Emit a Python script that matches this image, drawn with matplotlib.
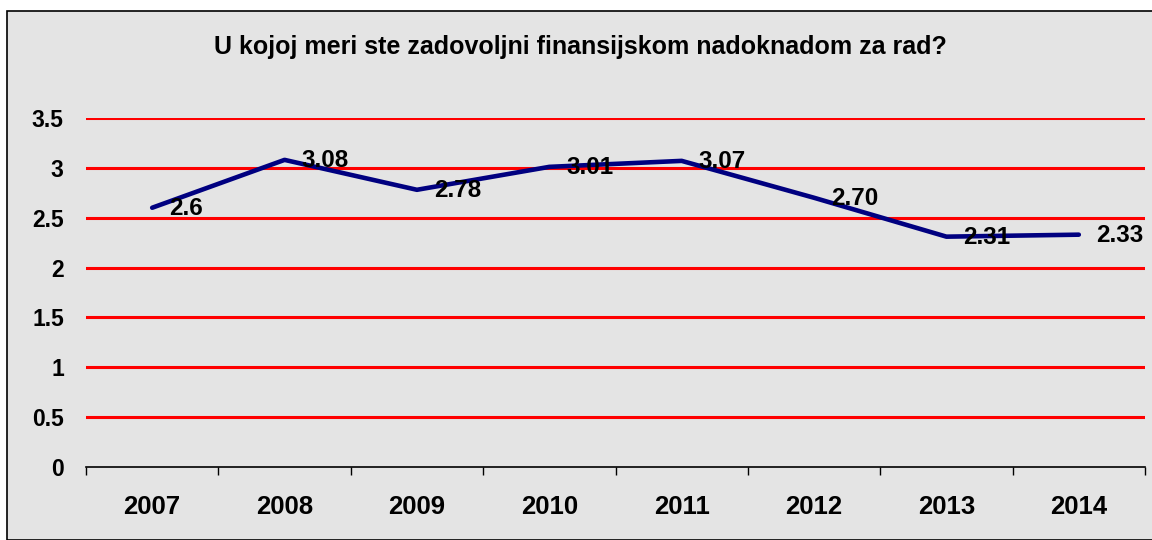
import numpy as np
import matplotlib.pyplot as plt
from matplotlib.patches import Rectangle

plt.rcParams['font.family'] = ['Liberation Sans', 'DejaVu Sans']

godine = ['2007', '2008', '2009', '2010', '2011', '2012', '2013', '2014']
ocene = [2.6, 3.08, 2.78, 3.01, 3.07, 2.70, 2.31, 2.33]
oznake = ['2.6', '3.08', '2.78', '3.01', '3.07', '2.70', '2.31', '2.33']
y_ticks = [0, 0.5, 1, 1.5, 2, 2.5, 3, 3.5]
y_tick_labels = ['0', '0.5', '1', '1.5', '2', '2.5', '3', '3.5']

fig = plt.figure(figsize=(11.52, 5.4), dpi=100)
fig.patch.set_facecolor('white')

# okvir grafikona (siva pozadina)
okvir = Rectangle((7 / 1152, 0), 1.0, 1 - 11 / 540, transform=fig.transFigure,
                  facecolor='#e4e4e4', edgecolor='black', linewidth=1.2, zorder=-5)
fig.add_artist(okvir)

ax = fig.add_axes([86 / 1152, 1 - 467 / 540, (1145 - 86) / 1152, (467 - 118) / 540])
ax.set_facecolor('none')

x = np.arange(len(godine))
ax.set_xlim(-0.5, len(godine) - 0.5)
ax.set_ylim(0, 3.5)

# crvene linije mreze
for yv in y_ticks[1:]:
    ax.axhline(yv, color='#ff0000', linewidth=2.2, zorder=1)

ax.plot(x, ocene, color='#000080', linewidth=3.3, solid_capstyle='round', zorder=3)

for xi, yi, txt in zip(x, ocene, oznake):
    ax.annotate(txt, (xi, yi), xytext=(17, -1), textcoords='offset pixels',
                ha='left', va='center', fontsize=17.5, fontweight='bold', zorder=4)

for s in ['top', 'right', 'left']:
    ax.spines[s].set_visible(False)
ax.spines['bottom'].set_linewidth(1.2)

ax.set_yticks(y_ticks)
ax.set_yticklabels(y_tick_labels, fontsize=16.5, fontweight='bold')
ax.tick_params(axis='y', length=0, pad=16)

# podeoci izmedju kategorija, nazivi u sredini
ax.set_xticks(np.arange(-0.5, len(godine)), minor=False)
ax.set_xticklabels([])
ax.set_xticks(x, minor=True)
ax.set_xticklabels(godine, minor=True, fontsize=18.5, fontweight='bold')
ax.tick_params(axis='x', which='major', length=6, width=1, direction='out')
ax.tick_params(axis='x', which='minor', length=0, pad=20)

fig.text(580 / 1152, 1 - 47 / 540, 'U kojoj meri ste zadovoljni finansijskom nadoknadom za rad?',
         ha='center', va='center', fontsize=18, fontweight='bold')

fig.savefig('out.png', dpi=100)
